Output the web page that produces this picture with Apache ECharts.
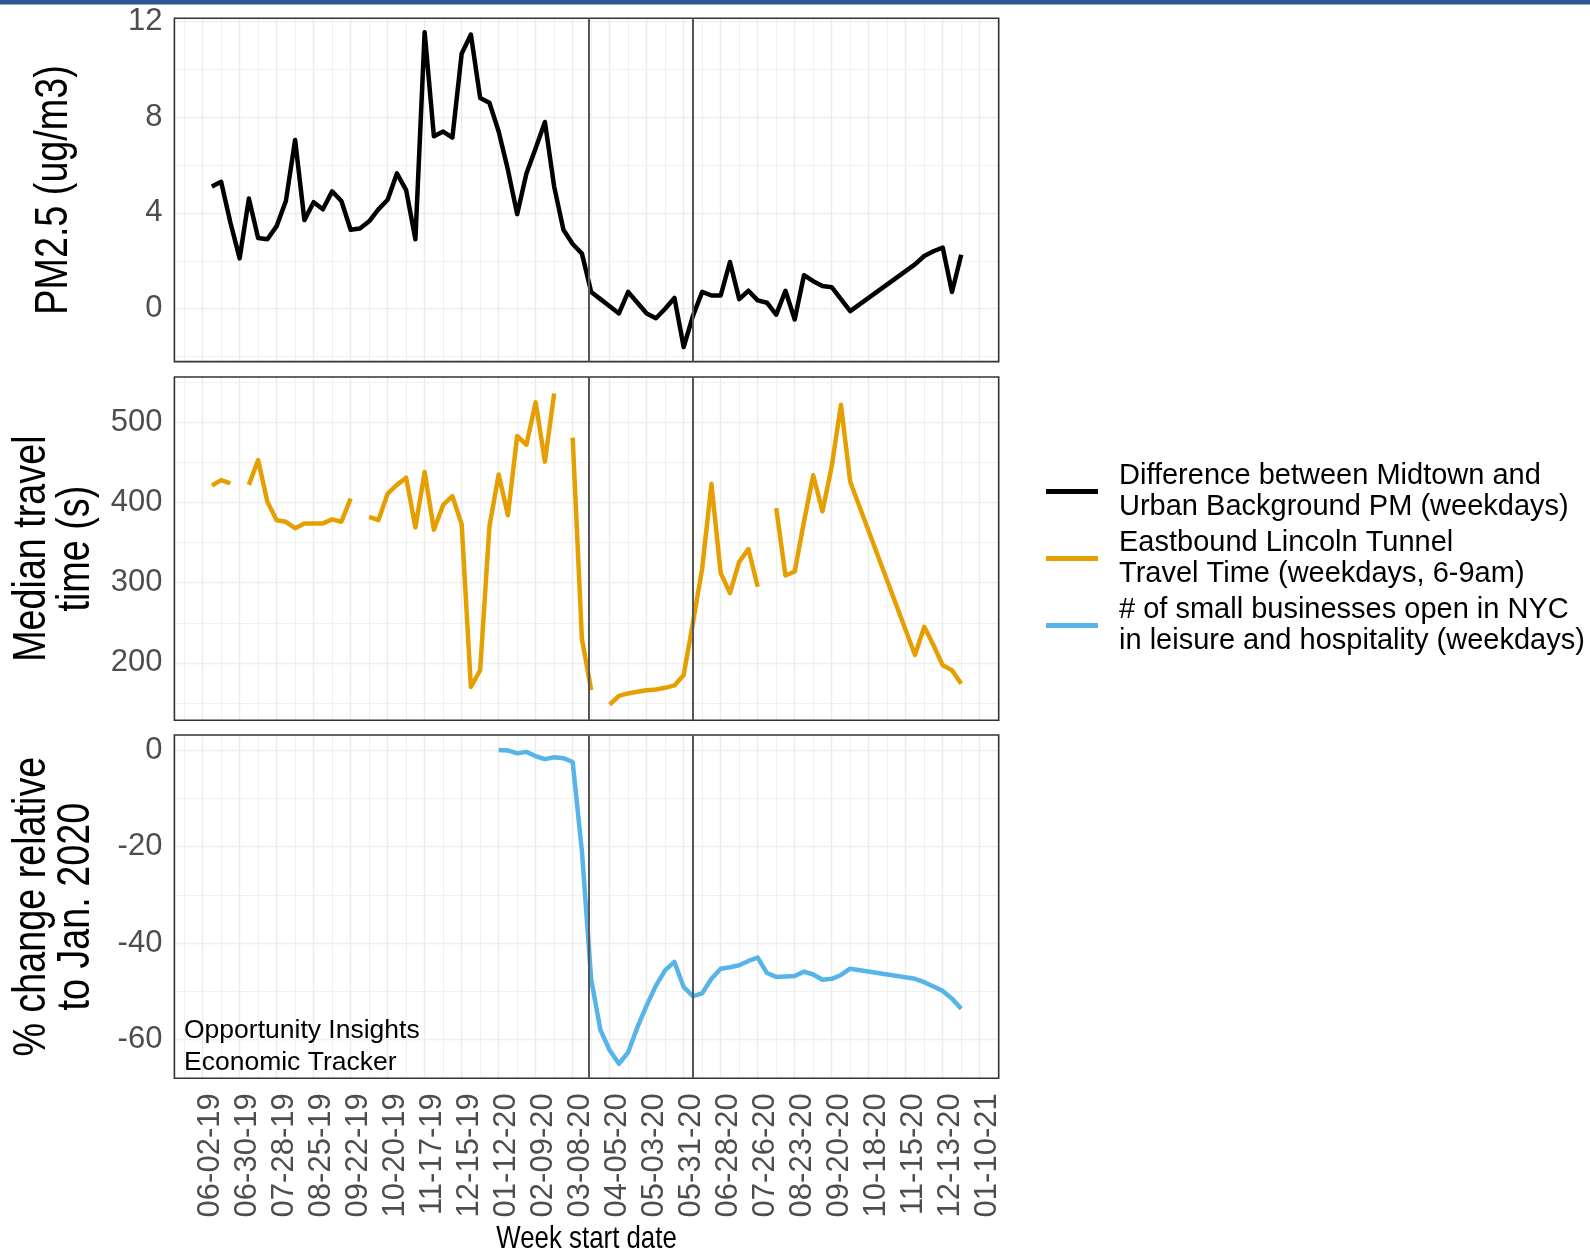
<!DOCTYPE html>
<html>
<head>
  <meta charset="utf-8">
</head>
<body style="margin: 0; background: #fff">
  <div id="main" style="width: 1590px; height: 1250px"></div>

  <script src="https://cdn.jsdelivr.net/npm/echarts@6.0.0/dist/echarts.min.js"></script>
  <script>
    // week 0 is 06-02-19, the first tick; rows run from week 1 to week 82
    var startDate = Date.UTC(2019, 5, 2);
    var missingWeeks = [71, 72, 73, 74, 75, 76];   // no rows at all, the lines join across
    var eventDates = ['2020-03-20', '2020-06-07'];

    var seriesNames = [
      'Difference between Midtown and\nUrban Background PM (weekdays)',
      'Eastbound Lincoln Tunnel\nTravel Time (weekdays, 6-9am)',
      '# of small businesses open in NYC\nin leisure and hospitality (weekdays)'
    ];
    var seriesColors = ['#000000', '#E69F00', '#56B4E9'];

    // PM2.5 difference, weeks 1..82
    var pmStart = 1;
    var pmDiff = [
      5.1, 5.3, 3.6, 2.1, 4.6, 2.95, 2.9, 3.45, 4.5, 7.05,
      3.7, 4.45, 4.15, 4.9, 4.5, 3.3, 3.35, 3.65, 4.15, 4.55,
      5.65, 4.95, 2.9, 11.55, 7.2, 7.4, 7.15, 10.65, 11.45, 8.8,
      8.6, 7.4, 5.8, 3.95, 5.65, 6.7, 7.8, 5.1, 3.3, 2.7,
      2.3, 0.7, 0.4, 0.1, -0.2, 0.7, 0.25, -0.2, -0.4, 0.0,
      0.45, -1.6, -0.3, 0.7, 0.55, 0.55, 1.95, 0.4, 0.75, 0.35,
      0.25, -0.25, 0.75, -0.45, 1.4, 1.15, 0.95, 0.9, 0.4, -0.1,
      null, null, null, null, null, null, 1.85, 2.2, 2.4, 2.55,
      0.7, 2.25
    ];

    // Lincoln Tunnel median travel time (s), weeks 1..82, null = no value (gap)
    var travelStart = 1;
    var travelTime = [
      421, 428, 424, null, 422, 453, 401, 378, 376, 368,
      374, 374, 374, 379, 376, 405, null, 382, 378, 411,
      422, 431, 369, 438, 366, 397, 408, 373, 170, 191,
      370, 435, 384, 483, 472, 525, 451, 536, null, 481,
      230, 166, null, 148, 159, 162, 164, 166, 167, 169,
      172, 185, 250, 318, 423, 312, 287, 326, 342, 295,
      null, 393, 309, 314, 376, 434, 389, 445, 522, 426,
      null, null, null, null, null, null, 210, 245, 222, 197,
      191, 174
    ];

    // small businesses open, % change vs Jan 2020, weeks 32..82
    var bizStart = 32;
    var smallBiz = [
      0, -0.1, -0.7, -0.4, -1.3, -1.9, -1.5, -1.7, -2.5, -21,
      -47.5, -58, -62.2, -65, -62.6, -57.4, -52.9, -48.8, -45.6, -43.9,
      -49.1, -51, -50.4, -47.4, -45.3, -45, -44.6, -43.7, -43, -46.2,
      -47, -46.9, -46.8, -45.9, -46.5, -47.6, -47.4, -46.6, -45.3,
      null, null, null, null, null, null, -47.4, -48.1, -49, -49.9,
      -51.5, -53.6
    ];

    var panelNames = ['PM2.5 (ug/m3)', 'Median travel\ntime (s)', '% change relative\nto Jan. 2020'];
    var xName = 'Week start date';
    var yMin = [-2.21, 128.5, -68];
    var yMax = [12.13, 556.5, 3.1];
    var yMajor = [4, 100, 20];
    var yMinor = [2, 50, 10];
    var xMin = -3.05, xMax = 86.05;

    var dayMs = 86400000;
    function weekOf(dateStr) {
      var p = dateStr.split('-');
      return (Date.UTC(+p[0], +p[1] - 1, +p[2]) - startDate) / (7 * dayMs);
    }
    function weekLabel(v) {
      var w = Math.round(v);
      if (Math.abs(v - w) > 1e-6 || w < 0 || w % 4 !== 0) return '';
      var d = new Date(startDate + w * 7 * dayMs);
      var mm = ('0' + (d.getUTCMonth() + 1)).slice(-2);
      var dd = ('0' + d.getUTCDate()).slice(-2);
      return mm + '-' + dd + '-' + String(d.getUTCFullYear()).slice(-2);
    }
    function buildData(values, start) {
      var out = [];
      values.forEach(function (v, i) {
        var w = start + i;
        if (missingWeeks.indexOf(w) >= 0) return;
        out.push([w, v == null ? '-' : v]);
      });
      return out;
    }

    var sans = 'Liberation Sans, Arial, sans-serif';
    var tickGrey = '#4D4D4D';
    var gridCol = '#EBEBEB';
    var minorCol = '#F0F0F0';

    var gridLeft = 174.4, gridWidth = 824.3, gridHeight = 343.3;
    var gridTops = [18.3, 377, 735];
    var grids = [], xAxes = [], yAxes = [];
    gridTops.forEach(function (top, i) {
      grids.push({
        left: gridLeft, top: top, width: gridWidth, height: gridHeight,
        show: true, borderColor: '#333', borderWidth: 1.6,
        backgroundColor: 'transparent', z: 1, outerBoundsMode: 'none'
      });
      var last = i === gridTops.length - 1;
      // minor vertical lines every 2 weeks
      xAxes.push({
        type: 'value', gridIndex: i, position: 'top', min: xMin, max: xMax,
        minInterval: 2, maxInterval: 2,
        axisLine: { show: false }, axisTick: { show: false }, axisLabel: { show: false },
        splitLine: { show: true, showMinLine: false, showMaxLine: false, lineStyle: { color: minorCol, width: 1 } }
      });
      // major vertical lines every 4 weeks, labels on the bottom panel
      xAxes.push({
        type: 'value', gridIndex: i, position: 'bottom', min: xMin, max: xMax,
        minInterval: 4, maxInterval: 4,
        axisLine: { show: false }, axisTick: { show: false },
        axisLabel: {
          show: last, rotate: 90, margin: 15, fontSize: 31, color: tickGrey,
          fontFamily: sans, verticalAlign: 'top', lineHeight: 16, formatter: weekLabel
        },
        splitLine: { show: true, showMinLine: false, showMaxLine: false, lineStyle: { color: gridCol, width: 1.4 } }
      });
      yAxes.push({
        type: 'value', gridIndex: i, position: 'left', min: yMin[i], max: yMax[i],
        minInterval: yMajor[i], maxInterval: yMajor[i],
        axisLine: { show: false }, axisTick: { show: false },
        axisLabel: {
          margin: 12, fontSize: 31, color: tickGrey, fontFamily: sans,
          formatter: function (v) {
            var r = Math.round(v);
            return Math.abs(v - r) < 1e-6 && r % yMajor[i] === 0 ? String(r) : '';
          }
        },
        splitLine: { show: true, showMinLine: false, showMaxLine: false, lineStyle: { color: gridCol, width: 1.4 } }
      });
      yAxes.push({
        type: 'value', gridIndex: i, position: 'right', min: yMin[i], max: yMax[i],
        minInterval: yMinor[i], maxInterval: yMinor[i],
        axisLine: { show: false }, axisTick: { show: false }, axisLabel: { show: false },
        splitLine: { show: true, showMinLine: false, showMaxLine: false, lineStyle: { color: minorCol, width: 1 } }
      });
    });

    var eventWeeks = eventDates.map(weekOf);
    var datasets = [buildData(pmDiff, pmStart), buildData(travelTime, travelStart), buildData(smallBiz, bizStart)];

    var series = datasets.map(function (d, i) {
      return {
        type: 'line', name: seriesNames[i], data: d,
        xAxisIndex: 2 * i, yAxisIndex: 2 * i,
        color: seriesColors[i],
        showSymbol: false, symbol: 'none', connectNulls: false,
        lineStyle: { color: seriesColors[i], width: 4.5, join: 'round' },
        animation: false,
        markLine: {
          silent: true, symbol: ['none', 'none'], animation: false,
          label: { show: false },
          lineStyle: { color: '#555', width: 2, type: 'solid' },
          emphasis: { disabled: true },
          data: eventWeeks.map(function (w) { return { xAxis: w }; })
        }
      };
    });

    // axis titles: narrow face is not installed, so squeeze Liberation Sans along the text
    var titles = panelNames.map(function (t, i) {
      return {
        type: 'text', x: 54, y: gridTops[i] + gridHeight / 2,
        rotation: Math.PI / 2, scaleX: 0.82,
        style: { text: t, fontSize: 46, lineHeight: 44, fontFamily: sans, fill: '#000', align: 'center', verticalAlign: 'middle' }
      };
    });
    titles.push({
      type: 'text', x: gridLeft + gridWidth / 2, y: 1239, scaleX: 0.82,
      style: { text: xName, fontSize: 31.5, fontFamily: sans, fill: '#000', align: 'center', verticalAlign: 'middle' }
    });

    var chart = echarts.init(document.getElementById('main'));
    chart.setOption({
      animation: false,
      backgroundColor: '#fff',
      grid: grids,
      xAxis: xAxes,
      yAxis: yAxes,
      legend: {
        orient: 'vertical', left: 1041, top: 456,
        icon: 'rect', itemWidth: 52, itemHeight: 5, itemGap: 6,
        data: seriesNames,
        textStyle: { fontSize: 29, lineHeight: 30.5, color: '#000', fontFamily: sans, padding: [0, 0, 0, 16] }
      },
      graphic: [
        { type: 'rect', left: 0, top: 0, shape: { width: 1590, height: 4.5 }, style: { fill: '#2E5597' } },
        {
          type: 'text', left: 184, top: 1015, z: 10,
          style: { text: 'Opportunity Insights\nEconomic Tracker', fontSize: 26.5, lineHeight: 32, fontFamily: sans, fill: '#000' }
        }
      ].concat(titles),
      series: series
    });
  </script>
</body>
</html>
